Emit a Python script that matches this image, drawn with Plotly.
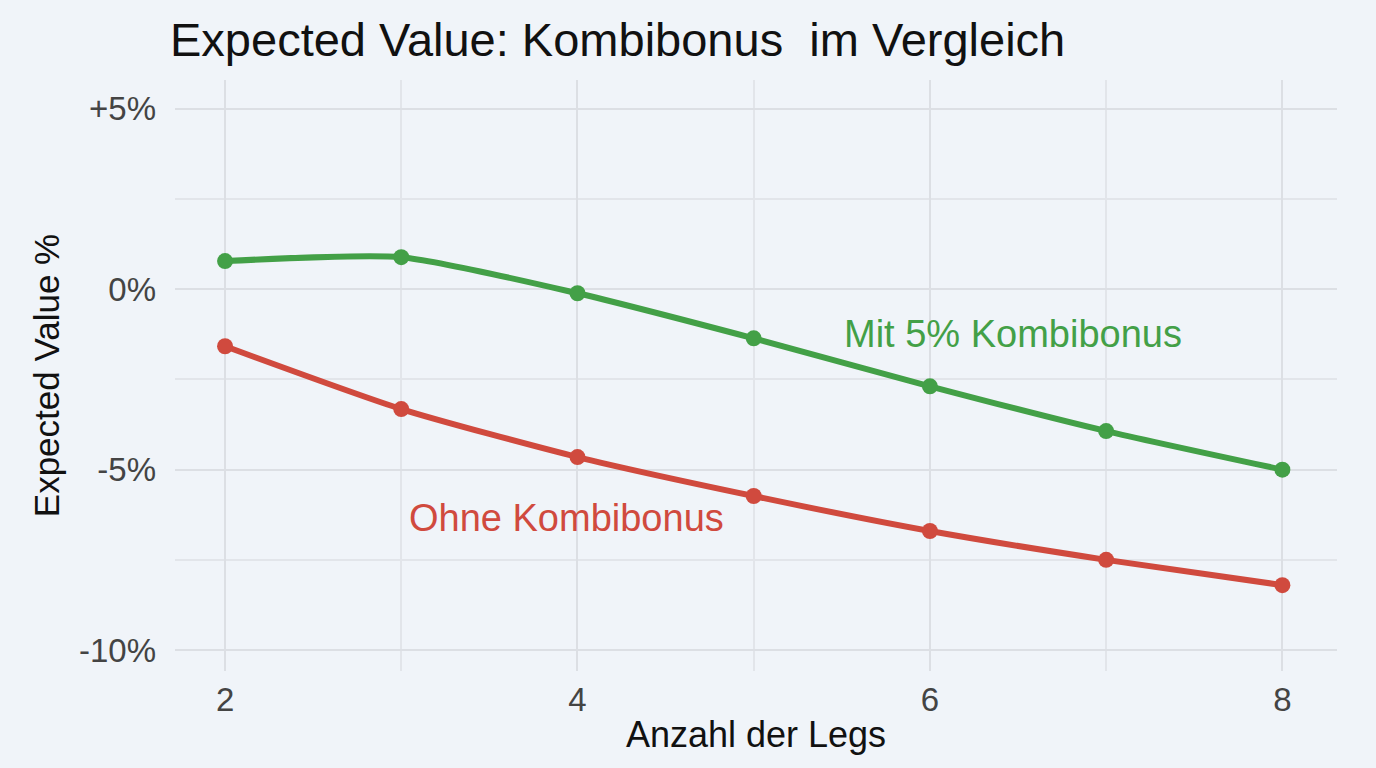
import plotly.graph_objects as go

legs = [2, 3, 4, 5, 6, 7, 8]
mit_bonus = [0.78, 0.89, -0.11, -1.36, -2.69, -3.93, -5.0]
ohne_bonus = [-1.58, -3.32, -4.65, -5.73, -6.70, -7.50, -8.20]
y_ticks = [5, 0, -5, -10]
y_tick_labels = ["+5%", "0%", "-5%", "-10%"]
x_ticks = [2, 4, 6, 8]

green = "#43a047"
red = "#d04a3e"
bg = "#f0f4f9"
font = "Liberation Sans, Arial, sans-serif"

fig = go.Figure()
fig.add_trace(go.Scatter(x=legs, y=mit_bonus, mode="lines+markers",
                         line=dict(color=green, width=6, shape="spline", smoothing=0.6),
                         marker=dict(size=16, color=green), name="Mit 5% Kombibonus"))
fig.add_trace(go.Scatter(x=legs, y=ohne_bonus, mode="lines+markers",
                         line=dict(color=red, width=6, shape="spline", smoothing=0.6),
                         marker=dict(size=16, color=red), name="Ohne Kombibonus"))

fig.add_annotation(x=5.5, y=-1.25, text="Mit 5% Kombibonus", showarrow=False,
                   font=dict(size=38, color=green, family=font), xanchor="left", yanchor="middle")
fig.add_annotation(x=3.035, y=-6.35, text="Ohne Kombibonus", showarrow=False,
                   font=dict(size=38, color=red, family=font), xanchor="left", yanchor="middle")

fig.update_layout(
    width=1376, height=768,
    paper_bgcolor=bg, plot_bgcolor=bg,
    margin=dict(l=175, r=39, t=80, b=97),
    showlegend=False,
    title=dict(text="Expected Value: Kombibonus  im Vergleich", x=170/1376, xanchor="left",
               y=1 - 40/768, yanchor="middle", font=dict(size=47, color="#111111", family=font)),
    font=dict(family=font, color="#444444"),
)
fig.update_xaxes(range=[1.716, 8.31], tickvals=x_ticks, ticks="", showline=False, zeroline=False,
                 gridcolor="#dcdfe4", gridwidth=2,
                 minor=dict(dtick=1, tick0=1, showgrid=True, gridcolor="#e2e5ea", gridwidth=1.5),
                 tickfont=dict(size=33, color="#444444"), ticklabelstandoff=6,
                 title=dict(text="Anzahl der Legs", font=dict(size=36, color="#111111"), standoff=4))
fig.update_yaxes(range=[-10.58, 5.8], tickvals=y_ticks, ticktext=y_tick_labels, ticks="",
                 showline=False, zeroline=False, gridcolor="#dcdfe4", gridwidth=2,
                 minor=dict(dtick=2.5, tick0=0, showgrid=True, gridcolor="#e2e5ea", gridwidth=1.5),
                 tickfont=dict(size=33, color="#444444"), ticklabelstandoff=18,
                 title=dict(text="Expected Value %", font=dict(size=35, color="#111111"), standoff=8))

fig.write_html("out.html")
